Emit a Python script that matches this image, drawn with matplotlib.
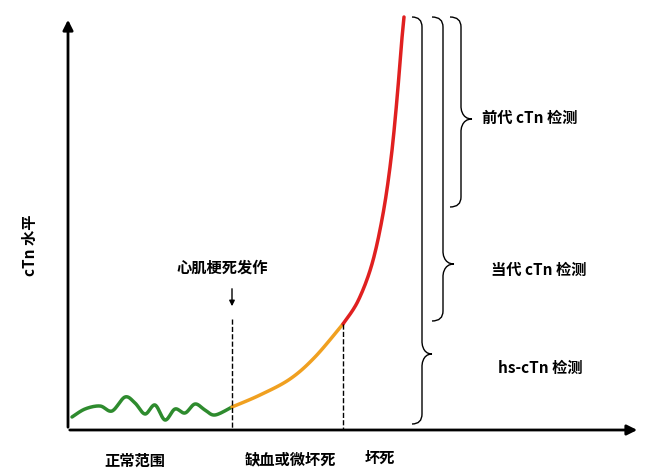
import numpy as np
import matplotlib
matplotlib.use("Agg")
import matplotlib.pyplot as plt
from matplotlib.path import Path
from matplotlib.patches import PathPatch

plt.rcParams['font.family'] = ['Noto Sans CJK SC', 'DejaVu Sans']

# curve points (pixel-like coords, y downward)
green_x = [72, 85, 100, 112, 125, 135, 145, 155, 165, 175, 185, 195, 205, 215, 232]
green_y = [418, 410, 407, 412, 398, 404, 415, 406, 421, 410, 414, 405, 411, 416, 408]
orange_x = [232, 260, 290, 315, 343]
orange_y = [408, 396, 380, 358, 325]
red_x = [343, 358, 372, 383, 391, 397, 401, 404]
red_y = [325, 302, 265, 215, 160, 100, 50, 18]

x_labels = ["正常范围", "缺血或微坏死", "坏死"]
brace_labels = ["前代 cTn 检测", "当代 cTn 检测", "hs-cTn 检测"]
y_label = "cTn 水平"
event_label = "心肌梗死发作"

def catmull(xs, ys, n=20):
    P = np.column_stack([xs, ys]).astype(float)
    P = np.vstack([P[0], P, P[-1]])
    out = []
    for i in range(1, len(P) - 2):
        p0, p1, p2, p3 = P[i-1], P[i], P[i+1], P[i+2]
        for t in np.linspace(0, 1, n, endpoint=False):
            out.append(0.5 * ((2*p1) + (-p0+p2)*t + (2*p0-5*p1+4*p2-p3)*t**2 + (-p0+3*p1-3*p2+p3)*t**3))
    out.append(P[-2])
    out = np.array(out)
    return out[:, 0], out[:, 1]

fig = plt.figure(figsize=(6.52, 4.77), dpi=100)
ax = fig.add_axes([0, 0, 1, 1])
ax.set_xlim(0, 652); ax.set_ylim(477, 0); ax.axis('off')

# axes arrows
ax.annotate("", xy=(68, 18), xytext=(68, 431), arrowprops=dict(arrowstyle="-|>", color="black", lw=2, mutation_scale=15))
ax.annotate("", xy=(640, 431), xytext=(67, 431), arrowprops=dict(arrowstyle="-|>", color="black", lw=2, mutation_scale=15))

for xs, ys, c in [(green_x, green_y, "#2e8b2e"), (orange_x, orange_y, "#f0a020"), (red_x, red_y, "#e02020")]:
    sx, sy = catmull(xs, ys)
    ax.plot(sx, sy, color=c, lw=2.5, solid_capstyle='round')

# dashed lines
ax.plot([232, 232], [320, 431], ls='--', color='black', lw=1)
ax.plot([343, 343], [325, 431], ls='--', color='black', lw=1)
ax.annotate("", xy=(232, 310), xytext=(232, 287), arrowprops=dict(arrowstyle="-|>", color="black", lw=1, mutation_scale=8))
ax.text(222, 268, event_label, ha='center', va='center', fontsize=11, fontweight='bold')

def brace(x0, y0, y1, ym, w):
    h = w / 2
    verts = [(x0, y0), (x0 + h, y0), (x0 + h, y0 + 10), (x0 + h, ym - 12),
             (x0 + h, ym - 12), (x0 + h, ym), (x0 + w, ym),
             (x0 + h, ym), (x0 + h, ym + 12), (x0 + h, ym + 12),
             (x0 + h, y1 - 10), (x0 + h, y1), (x0, y1)]
    codes = [Path.MOVETO, Path.CURVE3, Path.CURVE3, Path.LINETO,
             Path.CURVE4, Path.CURVE4, Path.CURVE4,
             Path.CURVE4, Path.CURVE4, Path.CURVE4,
             Path.LINETO, Path.CURVE3, Path.CURVE3]
    ax.add_patch(PathPatch(Path(verts, codes), fill=False, lw=1, color='black'))

brace(412, 18, 425, 355, 20)
brace(432, 18, 322, 265, 22)
brace(450, 18, 208, 120, 22)

ax.text(530, 118, brace_labels[0], ha='center', va='center', fontsize=11, fontweight='bold')
ax.text(539, 270, brace_labels[1], ha='center', va='center', fontsize=11, fontweight='bold')
ax.text(540, 368, brace_labels[2], ha='center', va='center', fontsize=11, fontweight='bold')

for x, y, t in zip([135, 290, 380], [461, 459, 458], x_labels):
    ax.text(x, y, t, ha='center', va='center', fontsize=11, fontweight='bold')
ax.text(30, 245, y_label, ha='center', va='center', rotation=90, fontsize=11, fontweight='bold')

fig.savefig("out.png", dpi=100)
